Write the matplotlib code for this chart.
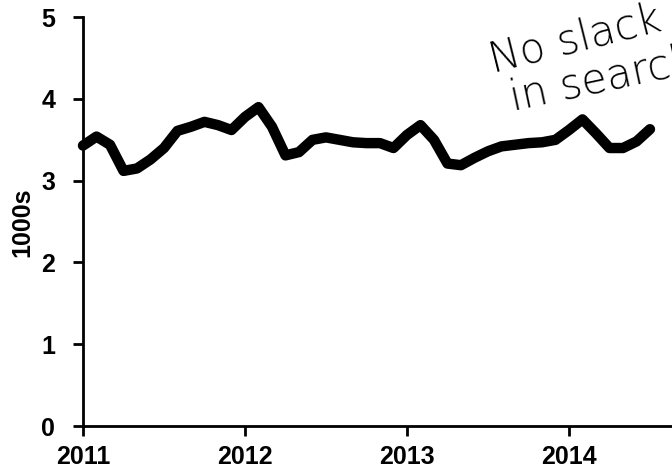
import matplotlib
matplotlib.use("Agg")
import matplotlib.pyplot as plt
import numpy as np

# Monthly values (thousands), Jan 2011 .. Jul 2014
values = [
    3.43, 3.54, 3.44, 3.12, 3.15, 3.26, 3.40, 3.61, 3.66, 3.72, 3.68, 3.62,  # 2011
    3.78, 3.90, 3.66, 3.31, 3.35, 3.50, 3.53, 3.50, 3.47, 3.46, 3.46, 3.40,  # 2012
    3.56, 3.68, 3.50, 3.21, 3.19, 3.28, 3.36, 3.42, 3.44, 3.46, 3.47, 3.50,  # 2013
    3.62, 3.75, 3.58, 3.40, 3.40, 3.48, 3.63,                                # 2014
]
start_year = 2011
years = [2011, 2012, 2013, 2014]
y_ticks = [0, 1, 2, 3, 4, 5]
y_label = "1000s"
note_line1 = "No slack"
note_line2 = "in search"

x = start_year + np.arange(len(values)) / 12.0

fig = plt.figure(figsize=(6.72, 4.71), dpi=100)
ax = fig.add_axes([0.1235, 0.0955, 0.8765, 0.868])
ax.plot(x, values, color="black", linewidth=7.5, solid_capstyle="round",
        solid_joinstyle="round", clip_on=False)

ax.set_ylim(0, 5)
ax.set_xlim(2011, 2014.636)
ax.set_yticks(y_ticks)
ax.set_xticks(years)
ax.set_xticklabels([str(y) for y in years])

for s in ["top", "right"]:
    ax.spines[s].set_visible(False)
for s in ["left", "bottom"]:
    ax.spines[s].set_linewidth(2)

lab_font = dict(family="Liberation Sans", weight="bold", size=18)
for lbl in ax.get_xticklabels() + ax.get_yticklabels():
    lbl.set_fontfamily("Liberation Sans")
    lbl.set_fontweight("bold")
    lbl.set_fontsize(18)
ax.tick_params(axis="y", direction="out", length=7, width=2, pad=13)
ax.tick_params(axis="x", direction="out", length=7, width=2, pad=7)

fig.text(22 / 672, 1 - 222 / 471, y_label, rotation=90, ha="center", va="center",
         **lab_font)

fig.text(493 / 672, 1 - 73 / 471, note_line1, rotation=14, rotation_mode="anchor",
         ha="left", va="baseline", fontsize=30, family="DejaVu Sans",
         fontweight="light")
fig.text(513 / 672, 1 - 111 / 471, note_line2, rotation=12, rotation_mode="anchor",
         ha="left", va="baseline", fontsize=30, family="DejaVu Sans",
         fontweight="light")

fig.savefig("out.png", dpi=100)
